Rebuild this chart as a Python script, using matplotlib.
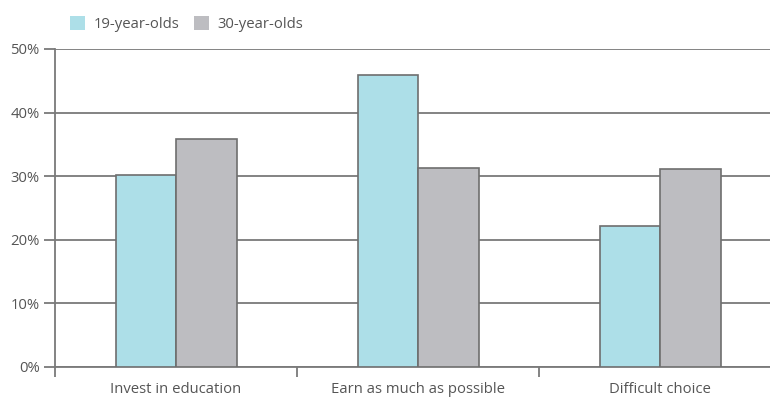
import matplotlib.pyplot as plt
import numpy as np

# data
categories = ["Invest in education", "Earn as much as possible", "Difficult choice"]
series_names = ["19-year-olds", "30-year-olds"]
age19 = [30.2, 45.9, 22.1]
age30 = [35.8, 31.3, 31.2]
y_ticks = [0, 10, 20, 30, 40, 50]

BLUE = "#addfe8"
GREY = "#bdbdc1"
EDGE = "#6e6e6e"
LINE = "#7a7a7a"
TEXT = "#555555"

plt.rcParams['font.family'] = ['Open Sans', 'DejaVu Sans']
plt.rcParams['font.size'] = 10.7

W, H = 770, 398
fig = plt.figure(figsize=(W / 100, H / 100), dpi=100)
left, right, top, bottom = 55, 770, 49, 367
ax = fig.add_axes([left / W, 1 - bottom / H, (right - left) / W, (bottom - top) / H])

# one category spans 242 px; the last one is cut by the figure edge
cat_px = 242
x = np.arange(len(categories)) + 0.5
bw = 0.25

for yv in y_ticks:
    ax.axhline(yv, color=LINE, lw=1.3, zorder=1)

ax.bar(x - bw / 2, age19, bw, color=BLUE, edgecolor=EDGE, lw=1.2, zorder=3, label=series_names[0])
ax.bar(x + bw / 2, age30, bw, color=GREY, edgecolor=EDGE, lw=1.2, zorder=3, label=series_names[1])

for s in ["top", "right"]:
    ax.spines[s].set_visible(False)
for s in ["left", "bottom"]:
    ax.spines[s].set_color(LINE)
    ax.spines[s].set_linewidth(1.3)

ax.set_yticks(y_ticks)
ax.set_yticklabels([f"{v}%" for v in y_ticks])
ax.tick_params(axis="y", length=8, width=1.3, color=LINE, labelcolor=TEXT, pad=3)

ax.set_xticks(np.arange(len(categories)))
ax.set_xticklabels([])
ax.tick_params(axis="x", which="major", length=7, width=1.3, color=LINE)
ax.set_xticks(x, minor=True)
ax.set_xticklabels(categories, minor=True)
ax.tick_params(axis="x", which="minor", length=0, labelcolor=TEXT, pad=11)

# limits last, set_xticks would widen them
ax.set_xlim(0, (right - left) / cat_px)
ax.set_ylim(0, 50)

leg = fig.legend(loc="upper left", bbox_to_anchor=(57 / W, 1 - 3 / H), ncol=2, frameon=False,
                 handlelength=1.0, handleheight=1.0, handletextpad=0.55, columnspacing=1.0,
                 labelcolor=TEXT)
for h in leg.legend_handles:
    h.set_edgecolor("none")

fig.savefig("out.png", dpi=100)
